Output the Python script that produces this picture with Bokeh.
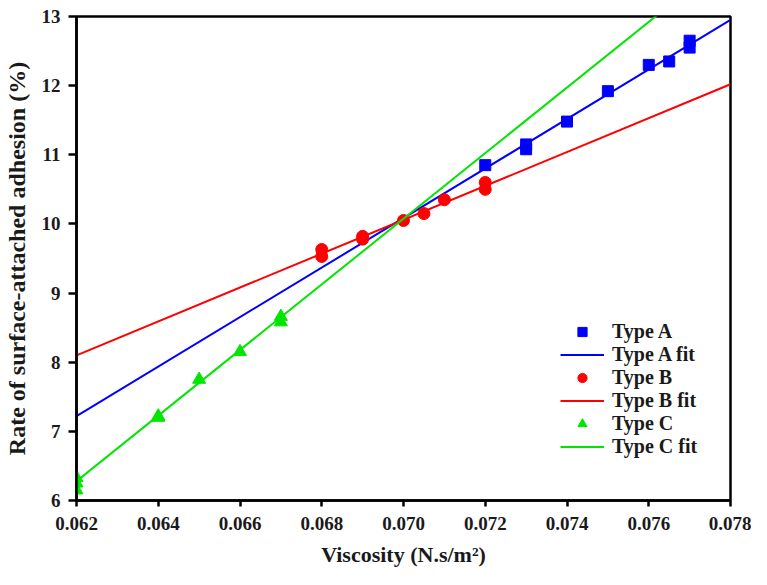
from bokeh.plotting import figure
from bokeh.models import FixedTicker, NumeralTickFormatter, Legend, LegendItem
from bokeh.embed import file_html
from bokeh.resources import INLINE

# Data
a_x = [0.072, 0.073, 0.073, 0.074, 0.075, 0.076, 0.0765, 0.077, 0.077]
a_y = [10.85, 11.08, 11.15, 11.48, 11.92, 12.30, 12.35, 12.55, 12.65]
b_x = [0.068, 0.068, 0.069, 0.069, 0.070, 0.0705, 0.071, 0.072, 0.072]
b_y = [9.53, 9.63, 9.78, 9.82, 10.05, 10.15, 10.35, 10.50, 10.60]
c_x = [0.062, 0.062, 0.062, 0.064, 0.064, 0.065, 0.066, 0.067, 0.067]
c_y = [6.15, 6.25, 6.33, 7.20, 7.22, 7.75, 8.15, 8.58, 8.66]

fit_x = [0.062, 0.078]
a_fit = [7.22, 12.95]
b_fit = [8.10, 12.02]
c_fit = [6.28, 13.87]

x_ticks = [0.062, 0.064, 0.066, 0.068, 0.070, 0.072, 0.074, 0.076, 0.078]
y_ticks = [6, 7, 8, 9, 10, 11, 12, 13]

BLUE = "#0000FF"
RED = "#FF0000"
GREEN = "#00E600"
FONT = "Liberation Serif"
TXT = "#1a1a1a"

p = figure(width=751, height=569, output_backend="svg", toolbar_location=None,
           x_range=(0.062, 0.078), y_range=(6, 13),
           min_border_left=76, min_border_right=21, min_border_top=16, min_border_bottom=69)
p.background_fill_color = "white"
p.outline_line_color = "black"
p.outline_line_width = 2.5
p.xgrid.visible = False
p.ygrid.visible = False

for ax in (p.xaxis[0], p.yaxis[0]):
    ax.axis_line_width = 2.5
    ax.major_tick_line_width = 2.5
    ax.major_tick_in = 0
    ax.minor_tick_line_color = None
    ax.major_label_text_font = FONT
    ax.major_label_text_font_style = "bold"
    ax.major_label_text_font_size = "19px"
    ax.major_label_text_color = TXT
    ax.axis_label_text_font = FONT
    ax.axis_label_text_font_style = "bold"
    ax.axis_label_text_color = TXT

p.xaxis.axis_label_text_font_size = "22px"
p.yaxis.axis_label_text_font_size = "24px"
p.xaxis.major_tick_out = 6
p.yaxis.major_tick_out = 8
p.xaxis.ticker = FixedTicker(ticks=x_ticks)
p.xaxis.formatter = NumeralTickFormatter(format="0.000")
p.yaxis.ticker = FixedTicker(ticks=y_ticks)
p.xaxis.axis_label = "Viscosity (N.s/m²)"
p.yaxis.axis_label = "Rate of surface-attached adhesion (%)"
p.xaxis.major_label_standoff = 10
p.xaxis.axis_label_standoff = 9
p.yaxis.major_label_standoff = 8
p.yaxis.axis_label_standoff = 9

ra = p.scatter(a_x, a_y, marker="square", size=11, color=BLUE)
la = p.line(fit_x, a_fit, line_color=BLUE, line_width=2)
rb = p.scatter(b_x, b_y, marker="circle", size=12, color=RED)
lb = p.line(fit_x, b_fit, line_color=RED, line_width=2)
rc = p.scatter(c_x, c_y, marker="triangle", size=13, color=GREEN)
lc = p.line(fit_x, c_fit, line_color=GREEN, line_width=2)

legend = Legend(items=[
    LegendItem(label="Type A", renderers=[ra]),
    LegendItem(label="Type A fit", renderers=[la]),
    LegendItem(label="Type B", renderers=[rb]),
    LegendItem(label="Type B fit", renderers=[lb]),
    LegendItem(label="Type C", renderers=[rc]),
    LegendItem(label="Type C fit", renderers=[lc]),
], location=(484, 42))
legend.border_line_color = None
legend.background_fill_alpha = 0
legend.padding = 0
legend.margin = 0
legend.spacing = 0
legend.glyph_width = 44
legend.glyph_height = 23
legend.label_height = 23
legend.label_standoff = 8
legend.label_text_font = FONT
legend.label_text_font_style = "bold"
legend.label_text_font_size = "20px"
legend.label_text_color = TXT
p.add_layout(legend, "center")

open("out.html", "w").write(file_html(p, INLINE))
